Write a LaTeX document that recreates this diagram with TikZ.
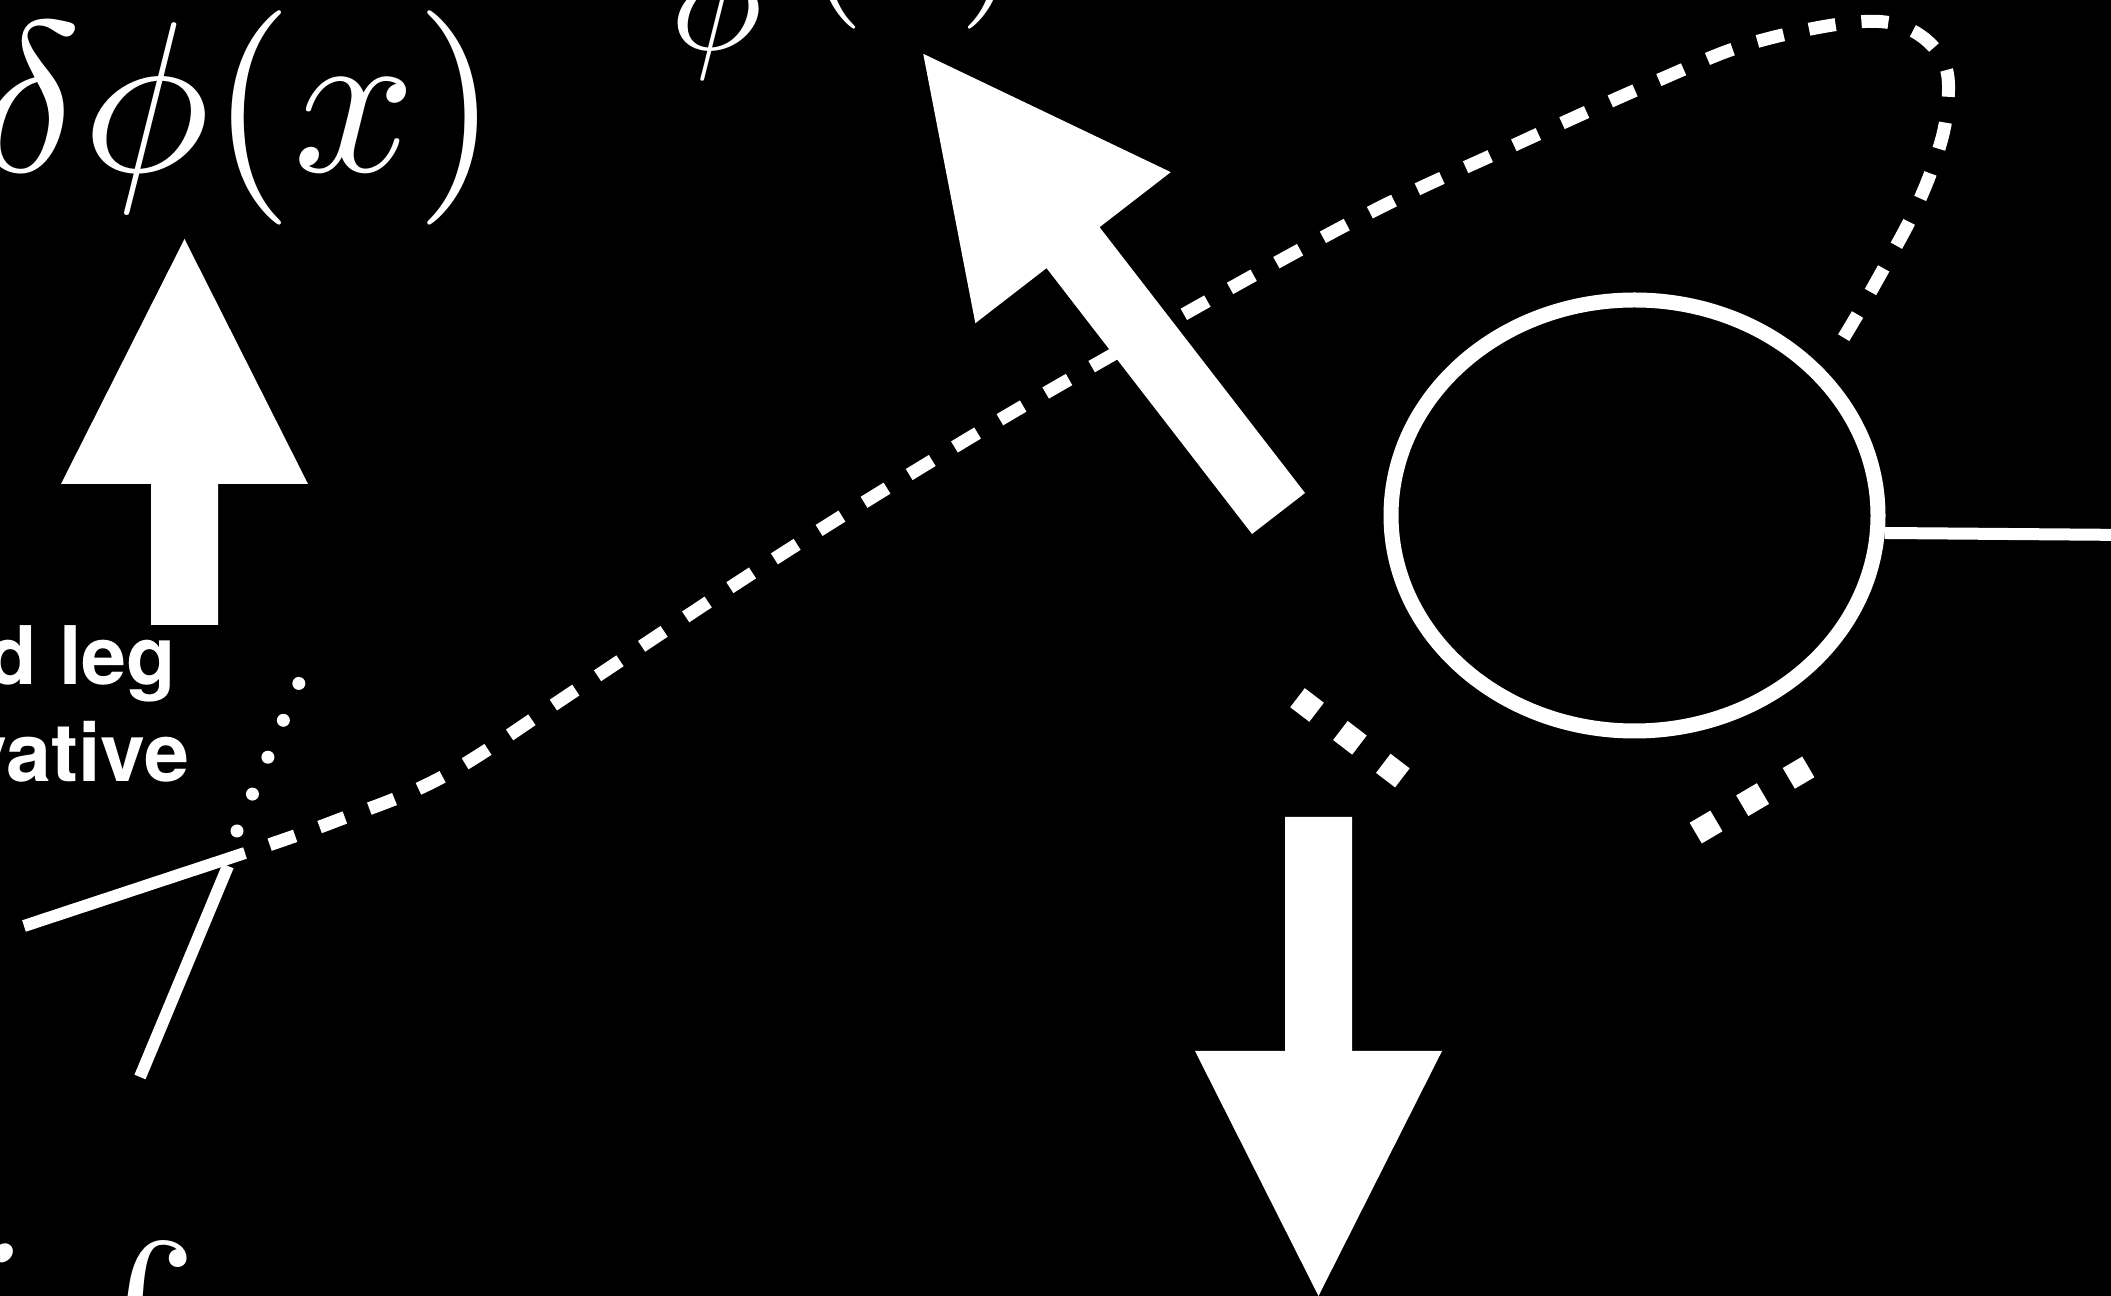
\documentclass[tikz,border=0pt]{standalone}
\usepackage{graphicx}
\usepackage{fontspec}
\setsansfont{TeX Gyre Heros}
\usetikzlibrary{shapes.geometric, positioning}

\begin{document}
\begin{tikzpicture}[
    x=0.1mm, y=-0.1mm,
    every node/.style={text=white, inner sep=0pt},
    caption/.style={font=\sffamily\bfseries\fontsize{23}{28}\selectfont},
    leg/.style={draw=white, line width=1.2mm},
    legdash/.style={draw=white, line width=1.3mm, dash pattern=on 2.7mm off 2.6mm, dash phase=2.7mm},
    dotleg/.style={draw=white, line width=1.3mm, line cap=round, dash pattern=on 0mm off 4mm},
    gapdash/.style={draw=white, line width=2.4mm, dash pattern=on 2.4mm off 3mm},
    pics/fatarrow/.style={code={
        \fill[white] (0,-33.5) -- (#1-245,-33.5) -- (#1-245,-123.5) -- (#1,0)
            -- (#1-245,123.5) -- (#1-245,33.5) -- (0,33.5) -- cycle;}},
]
\useasboundingbox (0,0) rectangle (2111,1296);
\clip (0,0) rectangle (2111,1296);
\fill[black] (0,0) rectangle (2111,1296);

% labels
\node[anchor=base east] (field) at (500,172) {\scalebox{6.1}{$\delta\phi(x)$}};
\node[anchor=base west] (phitop) at (670,50) {\scalebox{4.4}{$\phi$}};
\node[anchor=base] (lpar) at (835,-9) {\scalebox{4.4}{$($}};
\node[anchor=base] (rpar) at (990,-9) {\scalebox{4.4}{$)$}};
\node[caption, anchor=base east] (capa) at (177,685) {d leg};
\node[caption, anchor=base east] (capb) at (190,782) {vative};
\node[anchor=base west] (ivar) at (-48,1385) {\scalebox{6.1}{$i$}};
\node[anchor=north east] (integ) at (200,1240) {\scalebox{6.1}{$\int$}};

% loop
\node[ellipse, draw=white, line width=1.5mm, minimum width=48.7mm, minimum height=43.1mm] (loop) at (1634.5,515.5) {};

\coordinate (v) at (245,853);
\coordinate (legA) at (24,926);
\coordinate (v2) at (228,866);
\coordinate (legB) at (140,1077);
\coordinate (dot1) at (237,831);
\coordinate (dot5) at (299,683);
\coordinate (tail) at (1835,352);
\coordinate (rim) at (2130,535);

\draw[leg] (legA) -- (v);
\draw[leg] (v2) -- (legB);
\draw[dotleg] (dot1) -- (dot5);
\draw[legdash] plot[smooth, tension=0.6] coordinates {(v) (333,822) (444,776) (579,688)
    (754,572) (915,471) (1077,375) (1346,225) (1508,148) (1659,80) (1752,43) (1857,22)
    (1911,30) (1945,65) (1946,118) (1932,169) (1911,218) (1885,266) (1859,312) (tail)};
\draw[leg] (loop.-4.6) -- (rim);

% small dashes
\draw[gapdash] (1297.5,697.7) -- (1405.5,780.3);
\draw[gapdash] (1695.7,833.1) -- (1808.3,766.9);

% block arrows
\pic[rotate=90] at (184.5,625) {fatarrow=386};
\pic[rotate=-90] at (1318.5,817) {fatarrow=479};
\pic[rotate=127.7] at (1278.5,513.5) {fatarrow=581};
\end{tikzpicture}
\end{document}
